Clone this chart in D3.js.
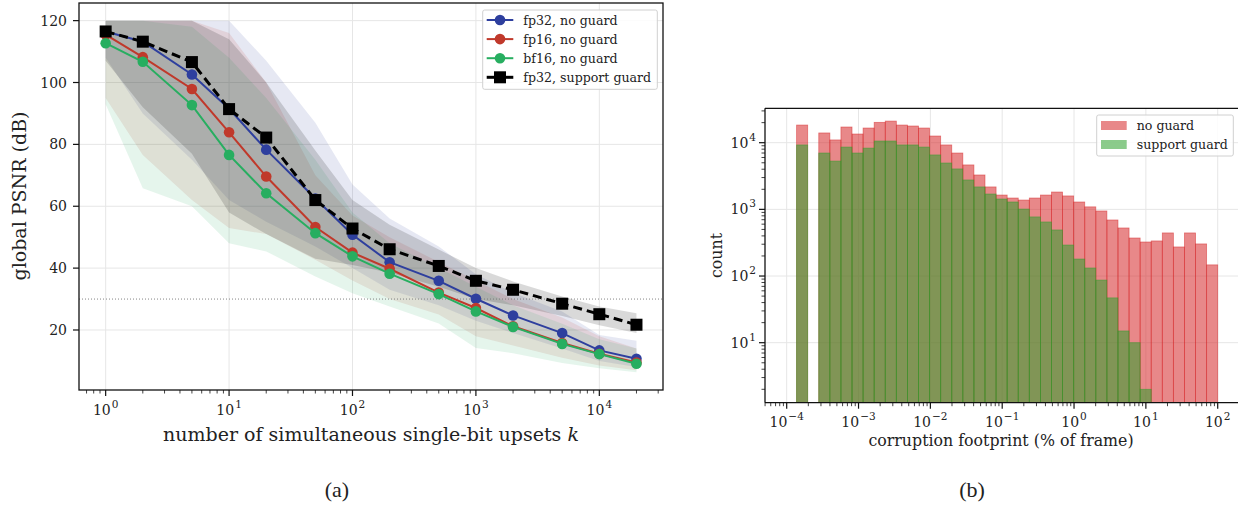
<html lang="en">
<head>
<meta charset="utf-8">
<title>PSNR vs upsets / corruption footprint</title>
<script src="https://d3js.org/d3.v7.min.js"></script>
<style>
  body { margin: 0; background: #fff; }
  svg text { font-family: "DejaVu Serif", serif; fill: #222; }
  .cap { font-family: "Liberation Serif", serif; }
</style>
</head>
<body>
<script>

// ---- panel (a) data : PSNR vs number of upsets k ----
var kVals = [1, 2, 5, 10, 20, 50, 100, 200, 500, 1000, 2000, 5000, 10000, 20000];

var fp32Mean = [116.5, 113.2, 102.6, 91.5, 78.3, 62.5, 50.8, 41.9, 35.9, 30.1, 24.7, 19.0, 13.4, 10.7];
var fp32Lo   = [108, 90, 75, 62, 55, 47, 40, 33, 28, 23, 19, 14, 10, 8];
var fp32Hi   = [120, 120, 120, 120, 107, 87, 67, 56, 47, 38, 32, 26, 18.4, 16.5];

var fp16Mean = [115.5, 108.2, 97.9, 83.9, 69.6, 53.3, 45.0, 39.8, 32.1, 27.1, 21.2, 15.8, 12.3, 9.5];
var fp16Lo   = [95, 76.6, 62, 53, 51, 42.7, 36, 30, 25, 18, 15, 11, 8.5, 7];
var fp16Hi   = [120, 120, 120, 116, 100, 70, 57, 50, 42, 36, 30, 24, 18, 14];

var bf16Mean = [112.7, 106.7, 92.7, 76.6, 64.2, 51.3, 43.8, 38.2, 31.6, 26.0, 21.0, 15.5, 12.2, 9.1];
var bf16Lo   = [93, 65.8, 60, 48, 45.4, 37.3, 31.9, 27.6, 22.1, 14.2, 12.5, 9.3, 7.6, 6.3];
var bf16Hi   = [120, 120, 118, 108, 95, 75, 58, 48, 40, 34, 28, 22, 17, 14];

var guardMean = [116.5, 113.2, 106.6, 91.4, 82.2, 62.0, 52.8, 46.1, 40.7, 35.9, 33.0, 28.5, 25.1, 21.7];
var guardLo   = [107, 92, 77, 58, 51, 43, 41, 38.5, 34, 30, 28, 24.5, 21.5, 19];
var guardHi   = [120, 120, 120, 114, 100, 78, 62, 54, 46, 40, 35.7, 30.8, 27.6, 25.4];

var psnrTicks = [20, 40, 60, 80, 100, 120];
var kTicks = [0, 1, 2, 3, 4];          // exponents of 10
var threshold = 30;

// ---- panel (b) data : histogram of corruption footprint (% of frame) ----
var binLogStart = -3.862, binLogEnd = 2.0, nBins = 38;
var noGuardCounts = [18400, 0, 14000, 11000, 17200, 13500, 16600, 20200, 21100, 18400, 17800, 16600,
                     12600, 9250, 7000, 4640, 3280, 2170, 1640, 1480, 1380, 1480, 1640, 1820, 1590,
                     1290, 1090, 946, 693, 526, 372, 324, 336, 443, 273, 443, 303, 147];
var guardCounts   = [9250, 0, 7000, 5300, 8600, 7000, 8300, 10600, 10600, 9250, 9250, 8600,
                     6550, 4960, 4040, 2760, 2170, 1700, 1430, 1290, 1010, 770, 647, 491, 292,
                     180, 132, 87, 47, 15, 10, 2, 0, 0, 0, 0, 0, 0];
var fpTicks = [-4, -3, -2, -1, 0, 1, 2];
var countTicks = [1, 2, 3, 4];

var series = [
  {name: "fp32, no guard",      mean: fp32Mean,  lo: fp32Lo,  hi: fp32Hi,  color: "#2e3f9e", sq: false},
  {name: "fp16, no guard",      mean: fp16Mean,  lo: fp16Lo,  hi: fp16Hi,  color: "#c0392b", sq: false},
  {name: "bf16, no guard",      mean: bf16Mean,  lo: bf16Lo,  hi: bf16Hi,  color: "#27ae60", sq: false},
  {name: "fp32, support guard", mean: guardMean, lo: guardLo, hi: guardHi, color: "#000000", sq: true}
];

var W = 1238, H = 506;
var svg = d3.select("body").append("svg").attr("width", W).attr("height", H);

// helper: "10^e" label
function pow10Label(g, x, y, e, anchor) {
  var t = g.append("text").attr("x", x).attr("y", y).attr("text-anchor", anchor || "middle")
    .attr("font-size", 14);
  t.append("tspan").text("10");
  t.append("tspan").attr("dx", 1).attr("dy", -7).attr("font-size", 10.5).text(e < 0 ? "\u2212" + (-e) : e);
}

// ======================= panel (a) =======================
var A = {l: 79, r: 663, t: 3, b: 390};
var xA = d3.scaleLog().domain([Math.pow(10, -0.216), Math.pow(10, 4.516)]).range([A.l, A.r]);
var yA = d3.scaleLinear().domain([0.6, 125.7]).range([A.b, A.t]);

var ga = svg.append("g");

// grid
psnrTicks.forEach(function(v) {
  ga.append("line").attr("x1", A.l).attr("x2", A.r).attr("y1", yA(v)).attr("y2", yA(v))
    .attr("stroke", "#e6e6e6").attr("stroke-width", 1);
});
kTicks.forEach(function(e) {
  ga.append("line").attr("x1", xA(Math.pow(10, e))).attr("x2", xA(Math.pow(10, e)))
    .attr("y1", A.t).attr("y2", A.b).attr("stroke", "#e6e6e6").attr("stroke-width", 1);
});

// bands
series.forEach(function(s) {
  var area = d3.area()
    .x(function(d, i) { return xA(kVals[i]); })
    .y0(function(d, i) { return yA(s.lo[i]); })
    .y1(function(d, i) { return yA(s.hi[i]); });
  ga.append("path").datum(kVals).attr("d", area)
    .attr("fill", s.color).attr("fill-opacity", s.sq ? 0.15 : 0.12);
});

// 30 dB reference line
ga.append("line").attr("x1", A.l).attr("x2", A.r).attr("y1", yA(threshold)).attr("y2", yA(threshold))
  .attr("stroke", "#777").attr("stroke-width", 0.9).attr("stroke-dasharray", "1,2");

// lines + markers
series.forEach(function(s) {
  var line = d3.line().x(function(d, i) { return xA(kVals[i]); }).y(function(d) { return yA(d); });
  ga.append("path").datum(s.mean).attr("d", line).attr("fill", "none")
    .attr("stroke", s.color).attr("stroke-width", s.sq ? 3 : 2)
    .attr("stroke-dasharray", s.sq ? "9,5" : null);
  s.mean.forEach(function(v, i) {
    if (s.sq) {
      ga.append("rect").attr("x", xA(kVals[i]) - 6).attr("y", yA(v) - 6)
        .attr("width", 12).attr("height", 12).attr("fill", "#000");
    } else {
      ga.append("circle").attr("cx", xA(kVals[i])).attr("cy", yA(v)).attr("r", 5.3).attr("fill", s.color);
    }
  });
});

// spines
ga.append("rect").attr("x", A.l).attr("y", A.t).attr("width", A.r - A.l).attr("height", A.b - A.t)
  .attr("fill", "none").attr("stroke", "#111").attr("stroke-width", 1.3);

// y ticks
psnrTicks.forEach(function(v) {
  ga.append("line").attr("x1", A.l - 6).attr("x2", A.l).attr("y1", yA(v)).attr("y2", yA(v))
    .attr("stroke", "#111").attr("stroke-width", 1.2);
  ga.append("text").attr("x", A.l - 12).attr("y", yA(v)).attr("dy", "0.36em")
    .attr("text-anchor", "end").attr("font-size", 14).text(v);
});
// x ticks (major + minor)
d3.range(0, 5).forEach(function(e) {
  for (var m = 1; m < 10; m++) {
    var v = m * Math.pow(10, e);
    var x = xA(v);
    if (x < A.l || x > A.r) continue;
    ga.append("line").attr("x1", x).attr("x2", x).attr("y1", A.b).attr("y2", A.b + (m == 1 ? 6 : 3.5))
      .attr("stroke", "#111").attr("stroke-width", m == 1 ? 1.2 : 0.8);
  }
});
[0.7, 0.8, 0.9].forEach(function(v) {
  ga.append("line").attr("x1", xA(v)).attr("x2", xA(v)).attr("y1", A.b).attr("y2", A.b + 3.5)
    .attr("stroke", "#111").attr("stroke-width", 0.8);
});
kTicks.forEach(function(e) { pow10Label(ga, xA(Math.pow(10, e)), 415, e); });

// axis labels
var xl = ga.append("text").attr("x", (A.l + A.r) / 2).attr("y", 441).attr("text-anchor", "middle")
  .attr("font-size", 19);
xl.append("tspan").text("number of simultaneous single-bit upsets ");
xl.append("tspan").attr("font-style", "italic").text("k");
ga.append("text").attr("transform", "translate(26," + 196 + ") rotate(-90)")
  .attr("text-anchor", "middle").attr("font-size", 19).text("global PSNR (dB)");

// legend
var lg = ga.append("g");
lg.append("rect").attr("x", 482.7).attr("y", 10).attr("width", 174.6).attr("height", 79.3)
  .attr("rx", 2).attr("fill", "#fff").attr("fill-opacity", 0.85).attr("stroke", "#d0d0d0");
series.forEach(function(s, i) {
  var y = 20 + i * 19.1;
  lg.append("line").attr("x1", 486.7).attr("x2", 513.3).attr("y1", y).attr("y2", y)
    .attr("stroke", s.color).attr("stroke-width", s.sq ? 3 : 2);
  if (s.sq) {
    lg.append("rect").attr("x", 494).attr("y", y - 6).attr("width", 12).attr("height", 12).attr("fill", "#000");
  } else {
    lg.append("circle").attr("cx", 500).attr("cy", y).attr("r", 5.3).attr("fill", s.color);
  }
  lg.append("text").attr("x", 523.3).attr("y", y).attr("dy", "0.36em").attr("font-size", 12.6).text(s.name);
});

svg.append("text").attr("class", "cap").attr("x", 337).attr("y", 497).attr("text-anchor", "middle")
  .attr("font-size", 22).text("(a)");

// ======================= panel (b) =======================
var B = {l: 765, r: 1238.9, t: 108.3, b: 402.7};
var xB = d3.scaleLog().domain([Math.pow(10, -4.302), Math.pow(10, 2.295)]).range([B.l, B.r]);
var yB = d3.scaleLog().domain([Math.pow(10, 0.1), Math.pow(10, 4.516)]).range([B.b, B.t]);

var gb = svg.append("g");
var clip = svg.append("clipPath").attr("id", "clipB");
clip.append("rect").attr("x", B.l).attr("y", B.t).attr("width", B.r - B.l).attr("height", B.b - B.t);

countTicks.forEach(function(e) {
  gb.append("line").attr("x1", B.l).attr("x2", B.r).attr("y1", yB(Math.pow(10, e))).attr("y2", yB(Math.pow(10, e)))
    .attr("stroke", "#e6e6e6");
});
fpTicks.forEach(function(e) {
  gb.append("line").attr("x1", xB(Math.pow(10, e))).attr("x2", xB(Math.pow(10, e)))
    .attr("y1", B.t).attr("y2", B.b).attr("stroke", "#e6e6e6");
});

// log-spaced bin edges
var binStep = (binLogEnd - binLogStart) / nBins;
var edges = d3.range(nBins + 1).map(function(i) { return Math.pow(10, binLogStart + i * binStep); });

function drawHist(counts, color) {
  gb.append("g").attr("clip-path", "url(#clipB)").selectAll("rect")
    .data(counts.map(function(c, i) { return {c: c, i: i}; }).filter(function(d) { return d.c > 0; }))
    .enter().append("rect")
    .attr("x", function(d) { return xB(edges[d.i]); })
    .attr("width", function(d) { return xB(edges[d.i + 1]) - xB(edges[d.i]); })
    .attr("y", function(d) { return yB(d.c); })
    .attr("height", function(d) { return B.b - yB(d.c) + 2; })
    .attr("fill", color).attr("fill-opacity", 0.55)
    .attr("stroke", color).attr("stroke-opacity", 0.55).attr("stroke-width", 0.8);
}
drawHist(noGuardCounts, "#d62728");
drawHist(guardCounts, "#2ca02c");

// spines (right spine sits just outside the picture)
gb.append("line").attr("x1", B.l).attr("x2", B.r).attr("y1", B.t).attr("y2", B.t).attr("stroke", "#111").attr("stroke-width", 1.3);
gb.append("line").attr("x1", B.l).attr("x2", B.r).attr("y1", B.b).attr("y2", B.b).attr("stroke", "#111").attr("stroke-width", 1.3);
gb.append("line").attr("x1", B.l).attr("x2", B.l).attr("y1", B.t).attr("y2", B.b).attr("stroke", "#111").attr("stroke-width", 1.3);

// y ticks (log, with minors)
d3.range(0, 5).forEach(function(e) {
  for (var m = 1; m < 10; m++) {
    var v = m * Math.pow(10, e);
    var y = yB(v);
    if (y > B.b || y < B.t) continue;
    gb.append("line").attr("x1", B.l - (m == 1 ? 6 : 3.5)).attr("x2", B.l).attr("y1", y).attr("y2", y)
      .attr("stroke", "#111").attr("stroke-width", m == 1 ? 1.2 : 0.8);
  }
});
countTicks.forEach(function(e) { pow10Label(gb, B.l - 9, yB(Math.pow(10, e)) + 5, e, "end"); });

// x ticks
d3.range(-5, 3).forEach(function(e) {
  for (var m = 1; m < 10; m++) {
    var v = m * Math.pow(10, e);
    var x = xB(v);
    if (x < B.l || x > B.r) continue;
    gb.append("line").attr("x1", x).attr("x2", x).attr("y1", B.b).attr("y2", B.b + (m == 1 ? 6 : 3.5))
      .attr("stroke", "#111").attr("stroke-width", m == 1 ? 1.2 : 0.8);
  }
});
fpTicks.forEach(function(e) { pow10Label(gb, xB(Math.pow(10, e)), 427, e); });

gb.append("text").attr("x", 1001).attr("y", 446).attr("text-anchor", "middle").attr("font-size", 15.8)
  .text("corruption footprint (% of frame)");
gb.append("text").attr("transform", "translate(722," + ((B.t + B.b) / 2) + ") rotate(-90)")
  .attr("text-anchor", "middle").attr("font-size", 15.8).text("count");

// legend (b)
var lb = gb.append("g");
lb.append("rect").attr("x", 1096.7).attr("y", 115).attr("width", 136.6).attr("height", 41)
  .attr("rx", 2).attr("fill", "#fff").attr("fill-opacity", 0.85).attr("stroke", "#d0d0d0");
[["no guard", "#d62728"], ["support guard", "#2ca02c"]].forEach(function(d, i) {
  var y = 125.5 + i * 19;
  lb.append("rect").attr("x", 1101).attr("y", y - 4.5).attr("width", 25.7).attr("height", 9)
    .attr("fill", d[1]).attr("fill-opacity", 0.55);
  lb.append("text").attr("x", 1136.7).attr("y", y).attr("dy", "0.36em").attr("font-size", 12.6).text(d[0]);
});

svg.append("text").attr("class", "cap").attr("x", 972).attr("y", 497).attr("text-anchor", "middle")
  .attr("font-size", 22).text("(b)");

</script>
</body>
</html>
